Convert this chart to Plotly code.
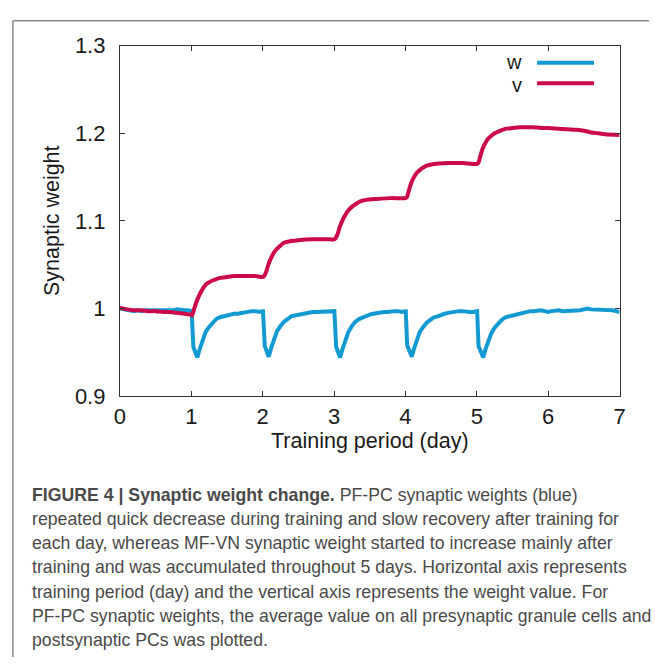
import plotly.graph_objects as go

# ---------------- data ----------------
days_w = [
    0.00, 0.05, 0.10, 0.15, 0.20, 0.25, 0.30, 0.35, 0.40, 0.45, 0.50, 0.55, 0.60, 0.65, 0.70,
    0.75, 0.80, 0.85, 0.90, 0.95, 1.00,
    1.005, 1.03, 1.085, 1.12, 1.16, 1.20, 1.25, 1.30, 1.35, 1.40, 1.45, 1.50, 1.55, 1.60, 1.65,
    1.70, 1.75, 1.80, 1.85, 1.90, 1.95, 2.00,
    2.005, 2.03, 2.085, 2.12, 2.16, 2.20, 2.25, 2.30, 2.35, 2.40, 2.45, 2.50, 2.55, 2.60, 2.65,
    2.70, 2.75, 2.80, 2.85, 2.90, 2.95, 3.00,
    3.005, 3.03, 3.085, 3.12, 3.16, 3.20, 3.25, 3.30, 3.35, 3.40, 3.45, 3.50, 3.55, 3.60, 3.65,
    3.70, 3.75, 3.80, 3.85, 3.90, 3.95, 4.00,
    4.005, 4.025, 4.09, 4.12, 4.16, 4.20, 4.25, 4.30, 4.35, 4.40, 4.45, 4.50, 4.55, 4.60, 4.65,
    4.70, 4.75, 4.80, 4.85, 4.90, 4.95, 5.00,
    5.005, 5.025, 5.09, 5.12, 5.16, 5.20, 5.25, 5.30, 5.35, 5.40, 5.45, 5.50, 5.55, 5.60, 5.65,
    5.70, 5.75, 5.80, 5.85, 5.90, 5.95, 6.00, 6.05, 6.10, 6.15, 6.20, 6.25, 6.30, 6.35, 6.40,
    6.45, 6.50, 6.55, 6.60, 6.65, 6.70, 6.75, 6.80, 6.85, 6.90, 6.95, 7.00,
]
w = [
    1.000, 0.999, 0.998, 0.998, 0.997, 0.998, 0.997, 0.998, 0.998, 0.997, 0.998, 0.997, 0.998, 0.998, 0.997,
    0.998, 0.999, 0.998, 0.998, 0.998, 0.998,
    0.997, 0.956, 0.944, 0.954, 0.965, 0.973, 0.979, 0.984, 0.988, 0.990, 0.991, 0.993, 0.993, 0.994, 0.994,
    0.995, 0.995, 0.996, 0.997, 0.997, 0.996, 0.997,
    0.997, 0.957, 0.945, 0.955, 0.966, 0.974, 0.980, 0.985, 0.988, 0.991, 0.992, 0.993, 0.994, 0.995, 0.995,
    0.996, 0.996, 0.996, 0.997, 0.996, 0.997, 0.997,
    0.997, 0.956, 0.944, 0.954, 0.965, 0.973, 0.980, 0.985, 0.988, 0.990, 0.992, 0.993, 0.994, 0.995, 0.995,
    0.996, 0.996, 0.997, 0.997, 0.997, 0.996, 0.997,
    0.997, 0.958, 0.945, 0.954, 0.964, 0.973, 0.979, 0.984, 0.987, 0.990, 0.991, 0.993, 0.994, 0.995, 0.996,
    0.997, 0.997, 0.997, 0.996, 0.996, 0.996, 0.996,
    0.997, 0.957, 0.944, 0.953, 0.963, 0.971, 0.978, 0.983, 0.987, 0.990, 0.991, 0.993, 0.994, 0.994, 0.995,
    0.996, 0.997, 0.997, 0.998, 0.998, 0.997, 0.996, 0.997, 0.998, 0.998, 0.997, 0.997, 0.997, 0.997, 0.998,
    0.998, 0.999, 1.000, 0.999, 0.999, 0.999, 0.998, 0.998, 0.998, 0.998, 0.997, 0.996,
]

days_v = [
    0.00, 0.10, 0.20, 0.30, 0.40, 0.50, 0.60, 0.70, 0.80, 0.90, 1.00, 1.01,
    1.02, 1.05, 1.10, 1.15, 1.20, 1.25, 1.30, 1.40, 1.50, 1.60, 1.70, 1.80, 1.90, 2.00,
    2.02, 2.05, 2.08, 2.12, 2.16, 2.20, 2.25, 2.30, 2.40, 2.50, 2.70, 2.90, 3.00,
    3.02, 3.05, 3.08, 3.12, 3.16, 3.20, 3.25, 3.30, 3.36, 3.45, 3.60, 3.80, 4.00,
    4.02, 4.05, 4.08, 4.12, 4.16, 4.20, 4.25, 4.30, 4.40, 4.60, 4.80, 5.00,
    5.02, 5.05, 5.08, 5.12, 5.16, 5.20, 5.25, 5.30, 5.40, 5.50, 5.60, 5.70, 5.80, 5.90,
    6.00, 6.20, 6.40, 6.50, 6.60, 6.70, 6.80, 7.00,
]
v = [
    1.001, 0.999, 0.998, 0.998, 0.997, 0.997, 0.996, 0.996, 0.995, 0.994, 0.993, 0.992,
    0.994, 1.002, 1.013, 1.021, 1.027, 1.030, 1.032, 1.035, 1.036, 1.037, 1.037, 1.037, 1.037, 1.036,
    1.037, 1.042, 1.050, 1.058, 1.064, 1.068, 1.072, 1.075, 1.077, 1.078, 1.079, 1.079, 1.079,
    1.080, 1.085, 1.093, 1.101, 1.107, 1.112, 1.116, 1.119, 1.122, 1.124, 1.125, 1.126, 1.126,
    1.127, 1.135, 1.143, 1.150, 1.155, 1.158, 1.161, 1.163, 1.165, 1.166, 1.166, 1.165,
    1.166, 1.174, 1.182, 1.189, 1.194, 1.197, 1.200, 1.202, 1.205, 1.206, 1.207, 1.207, 1.207, 1.206,
    1.206, 1.205, 1.204, 1.203, 1.201, 1.200, 1.199, 1.198,
]

x_ticks = [0, 1, 2, 3, 4, 5, 6, 7]
x_tick_labels = ["0", "1", "2", "3", "4", "5", "6", "7"]
y_ticks = [0.9, 1.0, 1.1, 1.2, 1.3]
y_tick_labels = ["0.9", "1", "1.1", "1.2", "1.3"]
series_names = ["w", "v"]

caption_lines = [
    "<b>FIGURE 4 | Synaptic weight change.</b> PF-PC synaptic weights (blue)",
    "repeated quick decrease during training and slow recovery after training for",
    "each day, whereas MF-VN synaptic weight started to increase mainly after",
    "training and was accumulated throughout 5 days. Horizontal axis represents",
    "training period (day) and the vertical axis represents the weight value. For",
    "PF-PC synaptic weights, the average value on all presynaptic granule cells and",
    "postsynaptic PCs was plotted.",
]

# ---------------- styling ----------------
W, H = 655, 670
BLUE = "#149ad3"
RED = "#cc0a4b"
AX = "#333333"
FONT = "Liberation Sans, Arial, sans-serif"

def px(x):
    return x / W

def py(y):
    return (H - y) / H

plot_l, plot_r, plot_t, plot_b = 116, 625, 35, 399

fig = go.Figure()
fig.add_trace(go.Scatter(x=days_w, y=w, mode="lines", name=series_names[0],
                         line=dict(color=BLUE, width=4), showlegend=False))
fig.add_trace(go.Scatter(x=days_v, y=v, mode="lines", name=series_names[1],
                         line=dict(color=RED, width=4, shape="spline", smoothing=0.6),
                         showlegend=False))

axis_common = dict(showline=True, linecolor=AX, linewidth=1, mirror="ticks",
                   ticks="inside", ticklen=5, tickcolor=AX, tickwidth=1,
                   showgrid=False, zeroline=False,
                   tickfont=dict(family=FONT, size=22, color="#1a1a1a"))

fig.update_xaxes(range=[0, 7], tickvals=x_ticks, ticktext=x_tick_labels,
                 domain=[px(plot_l), px(plot_r)], ticklabelstandoff=0, **axis_common)
fig.update_yaxes(range=[0.9, 1.3], tickvals=y_ticks, ticktext=y_tick_labels,
                 domain=[py(plot_b), py(plot_t)], ticklabelstandoff=9, **axis_common)

annotations = []
# axis titles
annotations.append(dict(text="Training period (day)", x=px((plot_l + plot_r) / 2), y=py(446),
                        xref="paper", yref="paper", showarrow=False, xanchor="center",
                        yanchor="middle", font=dict(family=FONT, size=21.5, color="#1a1a1a")))
annotations.append(dict(text="Synaptic weight", x=px(47), y=py((plot_t + plot_b) / 2),
                        xref="paper", yref="paper", showarrow=False, textangle=-90,
                        xanchor="center", yanchor="middle",
                        font=dict(family=FONT, size=21.5, color="#1a1a1a")))
# legend (text to the left of the key line)
shapes = []
legend_rows = [(series_names[0], BLUE, 52, 52.7), (series_names[1], RED, 76, 74)]
for name, col, ytxt, yline in legend_rows:
    annotations.append(dict(text=name, x=px(528), y=py(ytxt), xref="paper", yref="paper",
                            showarrow=False, xanchor="right", yanchor="middle",
                            font=dict(family=FONT, size=20, color="#1a1a1a")))
    shapes.append(dict(type="line", xref="paper", yref="paper", x0=px(541), x1=px(599),
                       y0=py(yline), y1=py(yline), line=dict(color=col, width=4)))
# caption
for i, line in enumerate(caption_lines):
    annotations.append(dict(text=line, x=px(24), y=py(502 + 25 * i), xref="paper", yref="paper",
                            showarrow=False, xanchor="left", yanchor="middle",
                            font=dict(family=FONT, size=17.7, color="#4a4a4a")))
# frame lines of the figure panel
shapes.append(dict(type="line", xref="paper", yref="paper", x0=px(7), x1=1.0, y0=py(9), y1=py(9),
                   line=dict(color="#8a8a8a", width=1.5)))
shapes.append(dict(type="line", xref="paper", yref="paper", x0=px(7), x1=px(7), y0=py(9), y1=0,
                   line=dict(color="#8a8a8a", width=1.5)))

fig.update_layout(width=W, height=H, margin=dict(l=0, r=0, t=0, b=0),
                  paper_bgcolor="white", plot_bgcolor="white",
                  annotations=annotations, shapes=shapes, showlegend=False)

fig.write_html("out.html", config={"displayModeBar": False},
               post_script="document.body.style.margin='0px';document.body.style.overflow='hidden';")
